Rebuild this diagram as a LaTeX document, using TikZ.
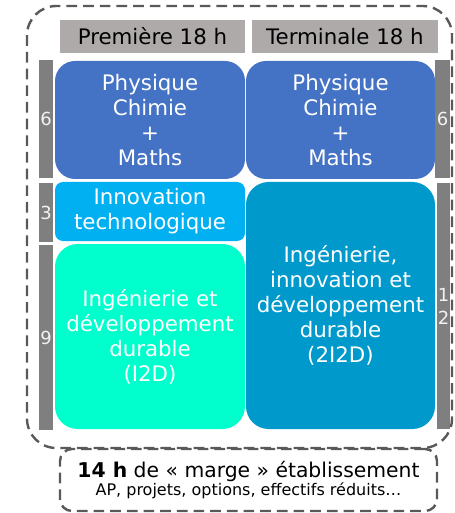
\documentclass[tikz,border=0pt]{standalone}
\usepackage{fontspec}
\setmainfont{DejaVu Sans}
\usetikzlibrary{positioning,calc}
\definecolor{pcblue}{HTML}{4472C4}
\definecolor{itblue}{HTML}{00B0F0}
\definecolor{iddgreen}{HTML}{00FFCC}
\definecolor{iiddblue}{HTML}{0099CC}
\definecolor{headgray}{HTML}{AEAAAA}
\definecolor{bargray}{HTML}{7F7F7F}
\definecolor{numgray}{HTML}{F2F2F2}
\definecolor{dashgray}{HTML}{595959}
\tikzset{
  box/.style={rectangle, rounded corners=15pt, inner sep=0pt, align=center,
    text=white, font=\fontsize{16}{18.75}\selectfont},
  head/.style={fill=headgray, inner sep=0pt, minimum height=24.75pt,
    font=\fontsize{16}{18.75}\selectfont},
  bar/.style={fill=bargray, inner sep=0pt, align=center, text=numgray,
    font=\fontsize{13.5}{17.25}\selectfont},
  marge/.style={draw=dashgray, line width=1.8pt, dash pattern=on 8pt off 4.5pt}
}

\begin{document}
\begin{tikzpicture}[x=0.75pt, y=-0.75pt]
    \useasboundingbox (0,0) rectangle (454,513);

    % en-tetes
    \node [head, minimum width=138.75pt] (prem) at (152.5,36.5) {Première 18 h};
    \node [head, minimum width=139.5pt] (term) at (345,36.5) {Terminale 18 h};

    % tronc commun
    \node [box, fill=pcblue, minimum width=142.5pt, minimum height=88.5pt] (pcA) at (150,120) {Physique\\Chimie\\+\\Maths};
    \node [box, fill=pcblue, minimum width=141.75pt, minimum height=88.5pt] (pcB) at (340.5,120) {Physique\\Chimie\\+\\Maths};

    % specialites
    \node [box, fill=itblue, rounded corners=6pt, minimum width=142.5pt, minimum height=44.25pt] (it) at (150,211.5) {Innovation\\technologique};
    \node [box, fill=iddgreen, rounded corners=17pt, minimum width=142.5pt, minimum height=138.75pt] (idd) at (150,336.5) {Ingénierie et\\développement\\durable\\(I2D)};
    \node [box, fill=iiddblue, rounded corners=17pt, minimum width=141.75pt, minimum height=185.25pt] (iidd) at (340.5,305.5) {Ingénierie,\\innovation et\\développement\\durable\\(2I2D)};

    % horaires
    \node [bar, minimum width=10.5pt, minimum height=88.5pt] (hA1) at (46,119) {6};
    \node [bar, minimum width=10.5pt, minimum height=44.25pt] (hA2) at (46,212.5) {3};
    \node [bar, minimum width=10.5pt, minimum height=138.75pt] (hA3) at (46,337.5) {9};
    \node [bar, minimum width=11.25pt, minimum height=88.5pt] (hB1) at (442.5,119) {6};
    \node [bar, minimum width=9.75pt, minimum height=184.5pt] (hB2) at (443.5,306) {1\\2};

    % marge
    \draw [marge, rounded corners=22pt] (27,6) rectangle (452,448);
    \node [marge, rounded corners=9pt, align=center, inner sep=0pt,
      minimum width=282.75pt, minimum height=46.5pt] (etab) at (248.5,480)
      {\fontsize{15.25}{16}\selectfont\textbf{14 h} de « marge » établissement\\[-0.5pt]
       \fontsize{12}{15.75}\selectfont AP, projets, options, effectifs réduits…};
\end{tikzpicture}
\end{document}
